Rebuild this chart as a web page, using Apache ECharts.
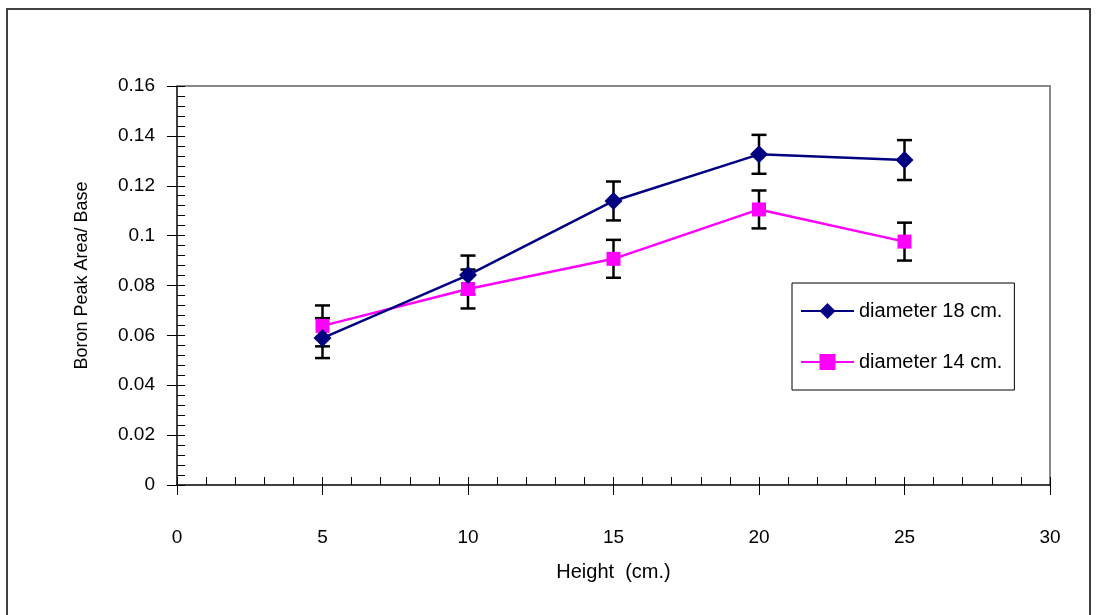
<!DOCTYPE html>
<html>
<head>
<meta charset="utf-8">
<script src="https://cdn.jsdelivr.net/npm/echarts@6/dist/echarts.min.js"></script>
<style>
  html, body { margin: 0; padding: 0; background: #fff; }
  #chart { width: 1098px; height: 615px; }
</style>
</head>
<body>
<div id="chart"></div>
<script>
// heights (cm.)
var heights = [5, 10, 15, 20, 25];
// boron peak area / base
var dia18 = [0.0589, 0.0842, 0.1139, 0.1326, 0.1303];
var dia14 = [0.0638, 0.0786, 0.0907, 0.1105, 0.0976];
// error bar half-widths
var err18 = [0.0080, 0.0078, 0.0078, 0.0078, 0.0080];
var err14 = [0.0082, 0.0078, 0.0076, 0.0076, 0.0076];
var seriesNames = ['diameter 18 cm.', 'diameter 14 cm.'];

var font = 'Liberation Sans, Arial, sans-serif';

function pairs(ys) {
  return heights.map(function (h, i) { return [h, ys[i]]; });
}
function errData(ys, es) {
  return heights.map(function (h, i) { return [h, ys[i] - es[i], ys[i] + es[i]]; });
}
function errorBar(params, api) {
  var lo = api.coord([api.value(0), api.value(1)]);
  var hi = api.coord([api.value(0), api.value(2)]);
  var w = 7.5;
  var st = { stroke: '#000', lineWidth: 2.5 };
  return {
    type: 'group',
    children: [
      { type: 'line', shape: { x1: lo[0], y1: lo[1], x2: hi[0], y2: hi[1] }, style: st },
      { type: 'line', shape: { x1: lo[0] - w, y1: lo[1], x2: lo[0] + w, y2: lo[1] }, style: st },
      { type: 'line', shape: { x1: hi[0] - w, y1: hi[1], x2: hi[0] + w, y2: hi[1] }, style: st }
    ]
  };
}

var myChart = echarts.init(document.getElementById('chart'));
var option = {
  animation: false,
  backgroundColor: '#fff',
  textStyle: { fontFamily: font },
  graphic: [{
    type: 'rect',
    shape: { x: 7, y: 9, width: 1083, height: 700 },
    style: { fill: 'none', stroke: '#404040', lineWidth: 2 },
    z: -10
  }],
  grid: { left: 177, right: 48, top: 86, bottom: 130, containLabel: false },
  legend: {
    orient: 'vertical',
    left: 792,
    top: 283,
    padding: [18, 12, 18, 8],
    itemWidth: 53,
    itemHeight: 20,
    itemGap: 31,
    borderColor: '#000',
    borderWidth: 1,
    backgroundColor: '#fff',
    textStyle: { fontFamily: font, fontSize: 20, color: '#000' },
    data: seriesNames
  },
  xAxis: [{
    type: 'value', min: 0, max: 30, interval: 5, position: 'bottom',
    name: 'Height  (cm.)', nameLocation: 'middle', nameGap: 77,
    nameTextStyle: { fontFamily: font, fontSize: 20, color: '#000' },
    axisLine: { lineStyle: { color: '#000', width: 1.5 } },
    axisTick: { show: true, inside: false, length: 10, lineStyle: { color: '#000' } },
    axisLabel: { margin: 43, fontFamily: font, fontSize: 19, color: '#000' },
    splitLine: { show: false }
  }, {
    type: 'value', min: 0, max: 30, interval: 5, position: 'bottom', offset: 0,
    axisLine: { show: false },
    axisTick: { show: true, inside: true, length: 8, lineStyle: { color: '#000' } },
    minorTick: { show: true, splitNumber: 5, length: 8, lineStyle: { color: '#000' } },
    axisLabel: { show: false },
    splitLine: { show: false }
  }, {
    type: 'value', min: 0, max: 30, position: 'top',
    axisLine: { show: true, onZero: false, lineStyle: { color: '#888', width: 2 } },
    axisTick: { show: false }, axisLabel: { show: false }, splitLine: { show: false }
  }],
  yAxis: [{
    type: 'value', min: 0, max: 0.16, interval: 0.02, position: 'left',
    name: 'Boron Peak Area/ Base', nameLocation: 'middle', nameGap: 86,
    nameTextStyle: { fontFamily: font, fontSize: 18, color: '#000', padding: [0, 0, 0, 20] },
    axisLine: { show: true, lineStyle: { color: '#000', width: 1.5 } },
    axisTick: { show: true, inside: false, length: 10, lineStyle: { color: '#000' } },
    axisLabel: {
      margin: 22, fontFamily: font, fontSize: 19, color: '#000',
      formatter: function (v) { return v === 0 ? '0' : String(+v.toFixed(2)); }
    },
    splitLine: { show: false }
  }, {
    type: 'value', min: 0, max: 0.16, interval: 0.02, position: 'left', offset: 0,
    axisLine: { show: false },
    axisTick: { show: true, inside: true, length: 8, lineStyle: { color: '#000' } },
    minorTick: { show: true, splitNumber: 5, length: 8, lineStyle: { color: '#000' } },
    axisLabel: { show: false },
    splitLine: { show: false }
  }, {
    type: 'value', min: 0, max: 0.16, position: 'right',
    axisLine: { show: true, onZero: false, lineStyle: { color: '#888', width: 2 } },
    axisTick: { show: false }, axisLabel: { show: false }, splitLine: { show: false }
  }],
  series: [{
    type: 'custom', name: 'err18', renderItem: errorBar,
    data: errData(dia18, err18), z: 1, silent: true,
    encode: { x: 0, y: [1, 2] }
  }, {
    type: 'custom', name: 'err14', renderItem: errorBar,
    data: errData(dia14, err14), z: 1, silent: true,
    encode: { x: 0, y: [1, 2] }
  }, {
    type: 'line', name: seriesNames[0], data: pairs(dia18), z: 3,
    symbol: 'diamond', symbolSize: 18,
    lineStyle: { color: '#000080', width: 2.5 },
    itemStyle: { color: '#000080' }
  }, {
    type: 'line', name: seriesNames[1], data: pairs(dia14), z: 2,
    symbol: 'rect', symbolSize: 14,
    lineStyle: { color: '#FF00FF', width: 2.5 },
    itemStyle: { color: '#FF00FF' }
  }]
};
myChart.setOption(option);
window.addEventListener('resize', function () {
  myChart.resize();
});
</script>
</body>
</html>
